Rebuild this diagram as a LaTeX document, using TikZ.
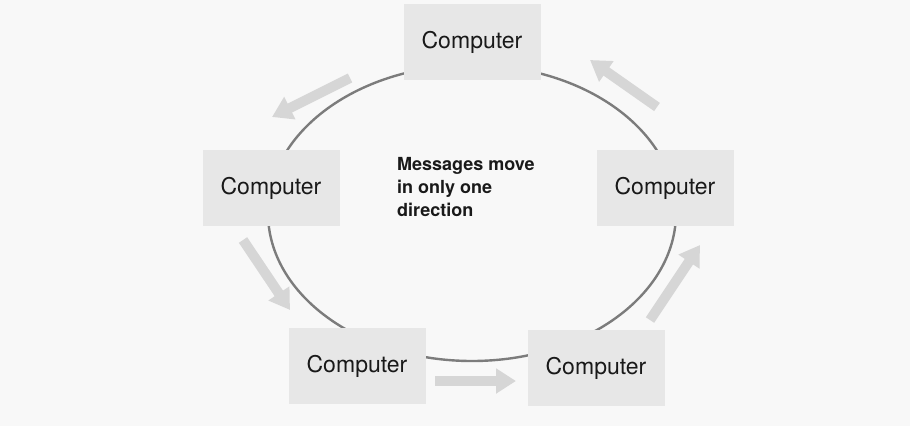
\documentclass[tikz,border=0pt]{standalone}
\usepackage{fontspec}
\setmainfont{TeX Gyre Heros}
\usetikzlibrary{arrows.meta}
\definecolor{bg}{HTML}{F8F8F8}
\definecolor{boxfill}{HTML}{E7E7E7}
\definecolor{ringcol}{HTML}{7C7C7C}
\definecolor{arrcol}{HTML}{D6D6D6}
\tikzset{
  pc/.style={fill=boxfill, minimum width=137pt, minimum height=76pt, inner sep=0pt,
             font=\fontsize{23}{27}\selectfont, text=black!90},
  flow/.style={draw=arrcol, line width=10pt,
               -{Triangle[width=24pt,length=20pt]}},
  ring/.style={draw=ringcol, line width=2.4pt}
}
\begin{document}
\begin{tikzpicture}[x=1pt,y=-1pt]
\fill[bg] (0,0) rectangle (910,426);
\useasboundingbox (0,0) rectangle (910,426);
% ring
\draw[ring] (472,213) ellipse [x radius=204, y radius=148];
% computers
\node[pc] (top) at (472,42) {Computer};
\node[pc] (left) at (271,188) {Computer};
\node[pc] (right) at (665,188) {Computer};
\node[pc] (bl) at (357,366) {Computer};
\node[pc] (br) at (596,368) {Computer};
% centre text
\node[anchor=west, align=left, inner sep=0pt, text=black!90,
      font=\bfseries\fontsize{18}{23}\selectfont] (msg) at (397,187)
  {Messages move\\in only one\\direction};
% direction arrows
\coordinate (a1s) at (657,107); \coordinate (a1e) at (590,60);
\coordinate (a2s) at (350,78);  \coordinate (a2e) at (272,117);
\coordinate (a3s) at (243,240); \coordinate (a3e) at (290,310);
\coordinate (a4s) at (435,381); \coordinate (a4e) at (516,381);
\coordinate (a5s) at (650,320); \coordinate (a5e) at (700,245);
\draw[flow] (a1s) -- (a1e);
\draw[flow] (a2s) -- (a2e);
\draw[flow] (a3s) -- (a3e);
\draw[flow] (a4s) -- (a4e);
\draw[flow] (a5s) -- (a5e);
\end{tikzpicture}
\end{document}
